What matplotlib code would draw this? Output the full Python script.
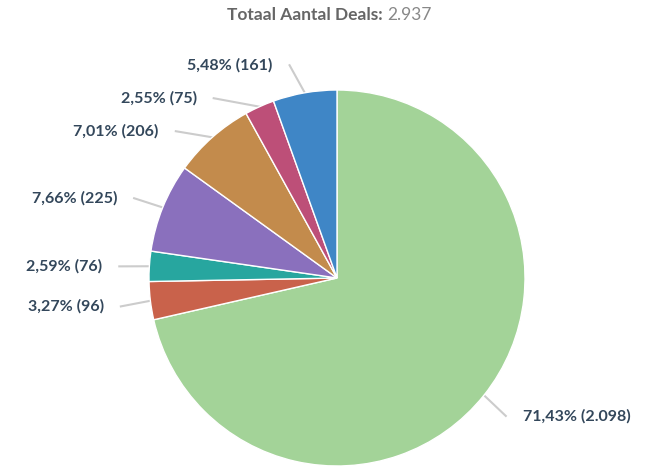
import numpy as np
import matplotlib
matplotlib.use("Agg")
import matplotlib.pyplot as plt

# deal stages (clockwise from the top)
counts = [2098, 96, 76, 225, 206, 75, 161]
labels = ["71,43% (2.098)", "3,27% (96)", "2,59% (76)", "7,66% (225)",
          "7,01% (206)", "2,55% (75)", "5,48% (161)"]
colors = ["#a3d398", "#c9624b", "#27a69f", "#8a70bd", "#c38b4c", "#bd4f78", "#3f86c6"]
total_label = "2.937"

plt.rcParams['font.family'] = ['Lato', 'DejaVu Sans']

W, H = 654, 469
fig = plt.figure(figsize=(W / 100, H / 100), dpi=100)
fig.patch.set_facecolor("white")

# pie: center (337, 278) px, radius 188 px
R = 188
ax = fig.add_axes([(337 - R) / W, (H - 278 - R) / H, 2 * R / W, 2 * R / H])
wedges, _ = ax.pie(counts, colors=colors, startangle=90, counterclock=False,
                   wedgeprops=dict(edgecolor="white", linewidth=1))
ax.set_xlim(-1, 1)
ax.set_ylim(-1, 1)
ax.set_aspect("equal")
ax.axis("off")

# label placement (highcharts-like: circle of radius R+30px, min spacing)
r_lab = 218 / R
gap = 33 / R
items = []
for w, lab in zip(wedges, labels):
    mid = np.deg2rad((w.theta1 + w.theta2) / 2)
    items.append([mid, lab, np.sin(mid) * r_lab - 2 / R, np.cos(mid) < 0])

for side in (True, False):
    grp = sorted([it for it in items if it[3] == side], key=lambda it: -it[2])
    for i in range(1, len(grp)):
        if grp[i - 1][2] - grp[i][2] < gap:
            grp[i][2] = grp[i - 1][2] - gap

for mid, lab, y, left in items:
    x = np.sqrt(max(r_lab ** 2 - y ** 2, 0.0)) * (-1 if left else 1)
    ex, ey = np.cos(mid), np.sin(mid)
    ax.plot([ex, x], [ey, y], color="#cccccc", lw=1.5, clip_on=False, zorder=0)
    tx = x + (-1 if left else 1) * 17 / R
    ax.text(tx, y, lab, ha="right" if left else "left", va="center",
            fontsize=11.5, fontweight="bold", color="#33475b", clip_on=False)

fig.text(387 / W, 1 - 15 / H, "Totaal Aantal Deals: ", ha="right", va="center",
         fontsize=12.5, fontweight="bold", color="#666666")
fig.text(387 / W, 1 - 15 / H, total_label, ha="left", va="center",
         fontsize=12.5, color="#888888")

fig.savefig("out.png", dpi=100, facecolor="white")
